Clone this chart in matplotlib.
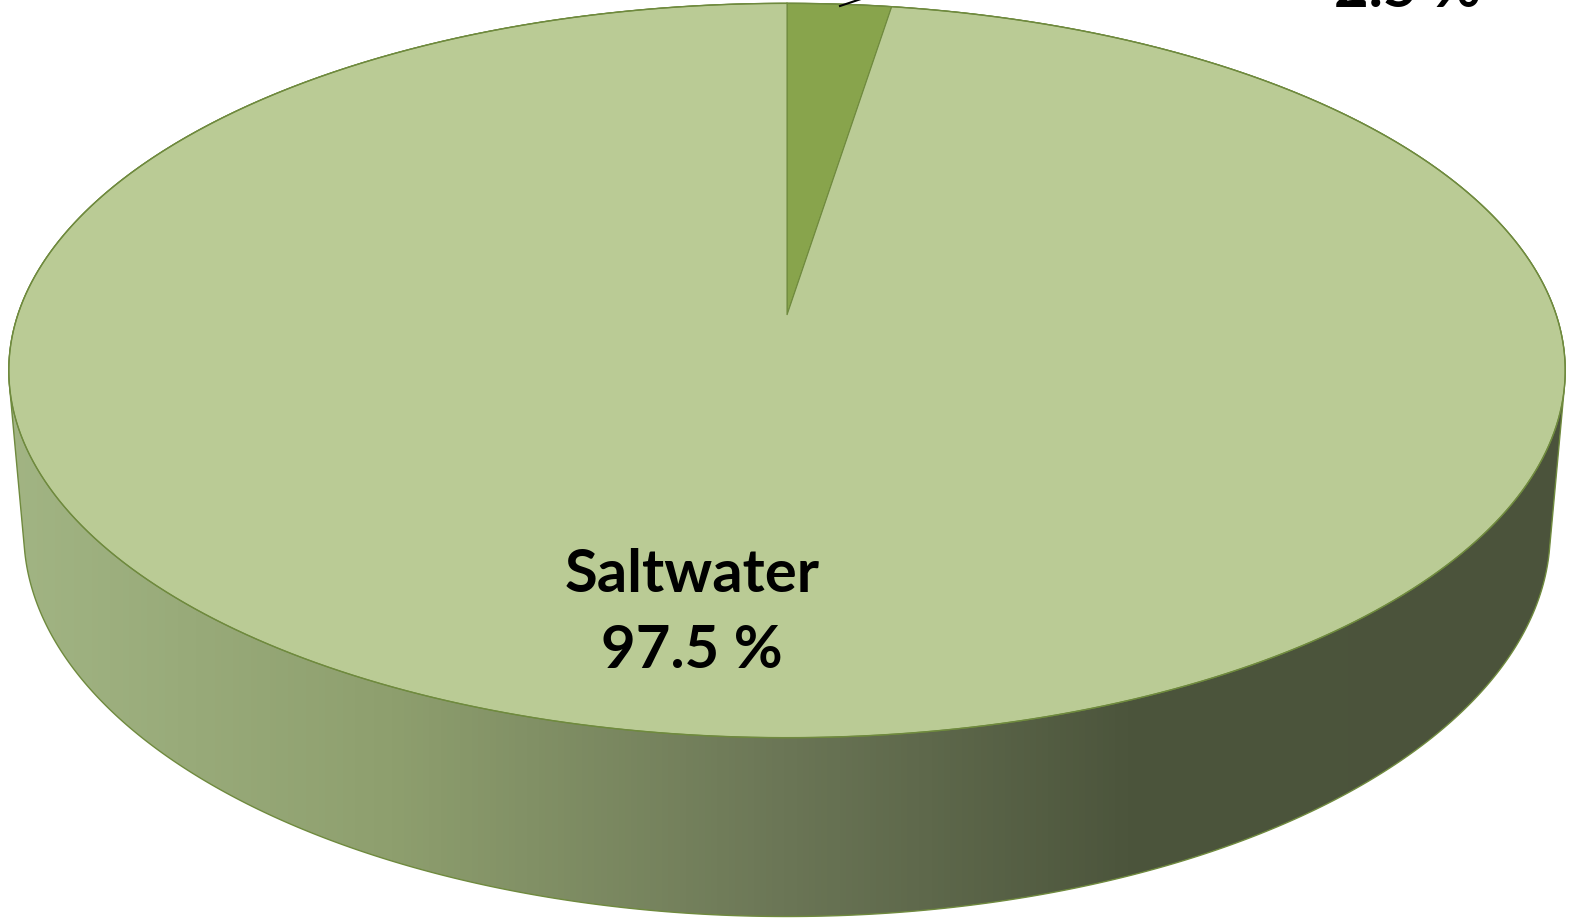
import numpy as np
import matplotlib.pyplot as plt
from matplotlib.patches import Polygon
from matplotlib.colors import LinearSegmentedColormap

labels = ["Freshwater", "Saltwater"]
values = [2.5, 97.5]
pct_text = ["2.5 %", "97.5 %"]
top_colors = ["#88A44C", "#BACB95"]

# camera / geometry (pixel space)
cx, cy = 787, 315
F, D = 4500.0, 5.85
phi = np.radians(27.8)
h = 0.24


def proj(u, v, z):
    depth = D + v * np.cos(phi) - z * np.sin(phi)
    ycam = v * np.sin(phi) + z * np.cos(phi)
    return cx + F * u / depth, cy - F * ycam / depth


def hull(pts):
    pts = sorted(map(tuple, pts))
    def cross(o, a, b):
        return (a[0] - o[0]) * (b[1] - o[1]) - (a[1] - o[1]) * (b[0] - o[0])
    lower, upper = [], []
    for p in pts:
        while len(lower) >= 2 and cross(lower[-2], lower[-1], p) <= 0:
            lower.pop()
        lower.append(p)
    for p in reversed(pts):
        while len(upper) >= 2 and cross(upper[-2], upper[-1], p) <= 0:
            upper.pop()
        upper.append(p)
    return np.array(lower[:-1] + upper[:-1])


fig = plt.figure(figsize=(15.69, 9.19), dpi=100)
ax = fig.add_axes([0, 0, 1, 1])
ax.set_xlim(0, 1569)
ax.set_ylim(919, 0)
ax.axis("off")

t = np.linspace(0, 2 * np.pi, 720)
tx, ty = proj(np.sin(t), np.cos(t), 0.0)
bx, by = proj(np.sin(t), np.cos(t), -h)
sil = hull(np.column_stack([np.r_[tx, bx], np.r_[ty, by]]))

# side wall with horizontal shading
side = Polygon(sil, closed=True, facecolor="none", edgecolor="#6F8A3E", lw=1.0, zorder=1)
ax.add_patch(side)
cmap = LinearSegmentedColormap.from_list("side", [
    (0.0, "#A2B584"), (0.25, "#8E9F6E"), (0.5, "#6B7656"),
    (0.72, "#4C553C"), (1.0, "#4B533B")])
grad = np.linspace(0, 1, 512).reshape(1, -1)
im = ax.imshow(grad, cmap=cmap, extent=[0, 1569, 919, 0], aspect="auto", zorder=0.5)
im.set_clip_path(side)
ax.set_xlim(0, 1569)
ax.set_ylim(919, 0)

# top face slices, clockwise from 12 o'clock
fr = np.array(values) / sum(values)
start = 0.0
for val, col in zip(fr, top_colors):
    a = np.linspace(start, start + val * 2 * np.pi, max(int(val * 720), 4))
    px, py = proj(np.sin(a), np.cos(a), 0.0)
    ox, oy = proj(0.0, 0.0, 0.0)
    poly = np.column_stack([np.r_[ox, px], np.r_[oy, py]])
    ax.add_patch(Polygon(poly, closed=True, facecolor=col, edgecolor="#6F8A3E", lw=0.8, zorder=2))
    start += val * 2 * np.pi
ax.plot(tx, ty, color="#6F8A3E", lw=1.0, zorder=3)

font = ["Lato", "DejaVu Sans"]
fs = 43
# Saltwater label
ax.text(692, 592, labels[1], ha="center", va="baseline", fontsize=fs,
        fontweight="bold", family=font, zorder=5)
ax.text(692, 668, pct_text[1], ha="center", va="baseline", fontsize=fs,
        fontweight="bold", family=font, zorder=5)
# Freshwater label (mostly above the image)
ax.text(1407, -69, labels[0], ha="center", va="baseline", fontsize=fs,
        fontweight="bold", family=font, zorder=5, clip_on=False)
ax.text(1407, 7, pct_text[0], ha="center", va="baseline", fontsize=fs,
        fontweight="bold", family=font, zorder=5, clip_on=False)
ax.plot([840, 900], [6, -14], color="black", lw=1.5, zorder=4, clip_on=False)

fig.savefig("out.png", dpi=100)
